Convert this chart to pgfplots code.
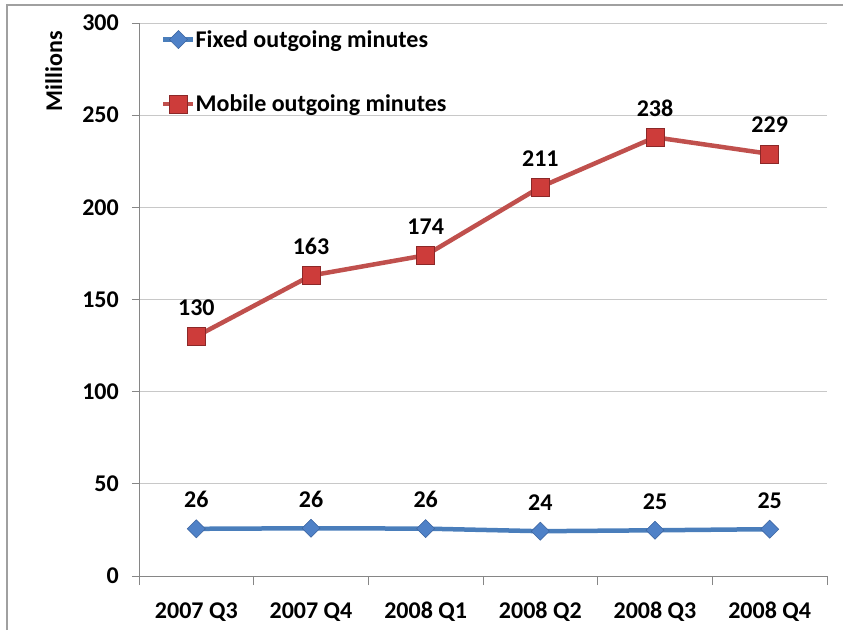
\documentclass[border=0pt]{standalone}
\usepackage{pgfplots}
\pgfplotsset{compat=1.18}
\usepackage{fontspec}
\setmainfont{Carlito}
\definecolor{fixblue}{RGB}{74,126,187}
\definecolor{fixbluefill}{RGB}{79,129,199}
\definecolor{fixbluedark}{RGB}{60,100,160}
\definecolor{mobred}{RGB}{192,80,77}
\definecolor{mobredfill}{RGB}{205,60,58}
\definecolor{mobreddark}{RGB}{140,40,40}
\definecolor{axisgray}{RGB}{134,134,134}
\definecolor{gridgray}{RGB}{200,200,200}
\definecolor{framegray}{RGB}{160,160,160}
\newcommand{\bigfont}{\fontsize{24}{28}\selectfont\bfseries}
\begin{document}
\begin{tikzpicture}[x=1pt,y=1pt]
\useasboundingbox (0,0) rectangle (843,630);
\begin{axis}[
  at={(139pt,54pt)}, anchor=south west,
  scale only axis, width=688pt, height=553pt,
  xmin=-0.5, xmax=5.5, ymin=0, ymax=300,
  axis x line*=bottom, axis y line*=left,
  axis line style={axisgray, line width=1pt},
  xtick={0,...,5},
  xticklabels={2007 Q3,2007 Q4,2008 Q1,2008 Q2,2008 Q3,2008 Q4},
  minor xtick={-0.5,0.5,...,5.5},
  major x tick style={draw=none},
  minor x tick style={axisgray, line width=1pt},
  minor tick length=9pt,
  ytick={0,50,...,300},
  y tick style={axisgray, line width=1pt},
  major tick length=7pt,
  tick align=outside,
  ymajorgrids, grid style={gridgray, line width=1pt},
  /pgf/number format/assume math mode=true,
  ticklabel style={font=\bigfont, inner sep=0pt},
  xticklabel style={anchor=base, yshift=-35pt},
  yticklabel style={anchor=east, xshift=-13pt},
  ylabel={Millions},
  ylabel style={font=\bigfont, at={(axis description cs:-0.124,0.913)}, anchor=center, inner sep=0pt},
  legend cell align=left,
  legend image code/.code={\draw[mark repeat=2,mark phase=2,#1] plot coordinates {(0pt,0pt) (15pt,0pt) (30pt,0pt)};},
  legend style={draw=none, fill=none, at={(axis description cs:0.032,0.987)}, anchor=north west,
    font=\bigfont, inner sep=0pt, row sep=46pt, nodes={inner sep=0pt},
    /tikz/every even column/.append style={column sep=1pt}},
  nodes near coords,
  every node near coord/.append style={font=\bigfont, anchor=base, yshift=21pt, inner sep=0pt, black},
]
\addplot[fixblue, line width=4.5pt, mark=square*, mark size=6.4pt,
  mark options={rotate=45, fill=fixbluefill, draw=fixbluedark, line width=0.5pt},
  point meta=explicit symbolic]
  coordinates {(0,25.6)[26] (1,25.9)[26] (2,25.7)[26] (3,24.3)[24] (4,24.8)[25] (5,25.4)[25]};
\addlegendentry{Fixed outgoing minutes}
\addplot[mobred, line width=4.5pt, mark=square*, mark size=9pt,
  mark options={fill=mobredfill, draw=mobreddark, line width=0.6pt},
  point meta=explicit symbolic]
  coordinates {(0,130)[130] (1,163)[163] (2,174)[174] (3,211)[211] (4,238)[238] (5,229)[229]};
\addlegendentry{Mobile outgoing minutes}
\end{axis}
\draw[framegray, line width=1.5pt] (7,0) -- (7,625) -- (843,625);
\end{tikzpicture}
\end{document}
